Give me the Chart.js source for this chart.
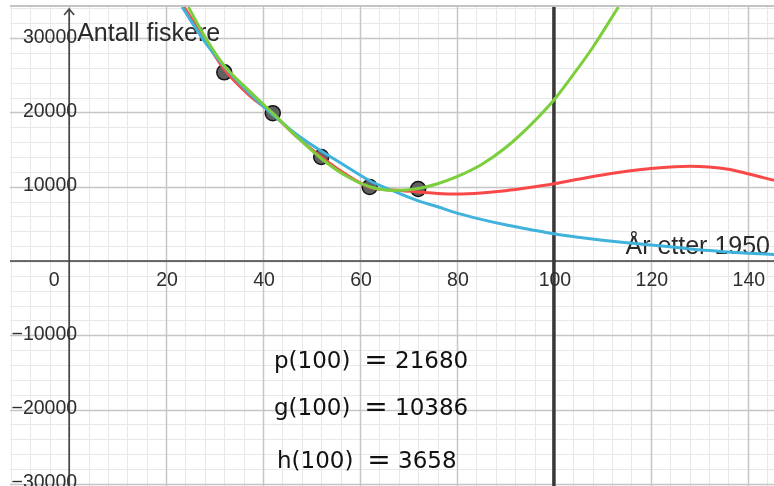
<!DOCTYPE html>
<html>
<head>
<meta charset="utf-8">
<script src="https://cdn.jsdelivr.net/npm/chart.js@4"></script>
<style>
html, body { margin: 0; padding: 0; background: #fff; }
canvas { display: block; }
</style>
</head>
<body>
<canvas id="fiskere" width="774" height="486"></canvas>
<script>
// observed data: years after 1950 and number of fishers
var years = [32, 42, 52, 62, 72];
var fishers = [25400, 19900, 14000, 9960, 9690];

// p (green)
var pX = [24.6, 28, 32, 37, 42, 47, 52, 57, 62, 67, 72, 76, 80, 85, 90, 95, 100, 104, 108, 113.3];
var pY = [34200, 30200, 26300, 23000, 19900, 16700, 13800, 11500, 10000, 9500, 9750, 10400, 11350, 12950, 15250, 18200, 21680, 25100, 28750, 34200];

// g (red)
var gX = [23.7, 28, 32, 37, 42, 47, 52, 57, 62, 67, 72, 76, 80, 85, 90, 95, 100, 105, 110, 115, 120, 125, 128, 132, 136, 140, 145.4];
var gY = [34200, 29800, 25800, 22400, 19800, 16700, 14000, 11700, 9920, 9550, 9300, 9100, 9020, 9150, 9450, 9880, 10386, 11000, 11570, 12070, 12450, 12690, 12740, 12650, 12350, 11750, 10850];

// h (blue)
var hX = [23.3, 28, 32, 37, 42, 47, 52, 57, 62, 67, 72, 76, 80, 85, 90, 95, 100, 105, 110, 115, 120, 125, 130, 135, 140, 145.4];
var hY = [34200, 29500, 26200, 22700, 19700, 17000, 14800, 12800, 10800, 9400, 8100, 7300, 6450, 5600, 4870, 4250, 3658, 3200, 2800, 2450, 2150, 1850, 1500, 1250, 1050, 880];

var xTicks = [0, 20, 40, 60, 80, 100, 120, 140];
var yTicks = [30000, 20000, 10000, -10000, -20000, -30000];

var markX = 100;
var funcNames = ['p', 'g', 'h'];
var funcAt100 = [21680, 10386, 3658];

function pts(xs, ys) {
  return xs.map(function (x, i) { return { x: x, y: ys[i] }; });
}

// minor/major grid like the GeoGebra view
function drawGrid(ctx, a, xs, ys, major) {
  var i, v, p;
  ctx.strokeStyle = major ? '#c6c6c6' : '#e8e8e8';
  ctx.lineWidth = major ? 1.5 : 1;
  ctx.beginPath();
  for (i = Math.ceil(xs.min / 4); i * 4 <= xs.max; i++) {
    v = i * 4;
    if ((v % 20 === 0) !== major) continue;
    p = Math.round(xs.getPixelForValue(v)) + 0.5;
    ctx.moveTo(p, a.top);
    ctx.lineTo(p, a.bottom);
  }
  for (i = Math.ceil(ys.min / 2000); i * 2000 <= ys.max; i++) {
    v = i * 2000;
    if ((v % 10000 === 0) !== major) continue;
    p = Math.round(ys.getPixelForValue(v)) + 0.5;
    ctx.moveTo(a.left, p);
    ctx.lineTo(a.right, p);
  }
  ctx.stroke();
}

var geoAxes = {
  id: 'geoAxes',
  beforeDatasetsDraw: function (chart) {
    var ctx = chart.ctx, a = chart.chartArea;
    var xs = chart.scales.x, ys = chart.scales.y;
    var x0 = xs.getPixelForValue(0), y0 = ys.getPixelForValue(0);
    ctx.save();
    drawGrid(ctx, a, xs, ys, false);
    drawGrid(ctx, a, xs, ys, true);

    // top border of the view
    ctx.strokeStyle = '#c4c4c4';
    ctx.lineWidth = 2;
    ctx.beginPath();
    ctx.moveTo(a.left, a.top - 1);
    ctx.lineTo(a.right, a.top - 1);
    ctx.stroke();

    // axes
    ctx.strokeStyle = '#444';
    ctx.lineWidth = 1.6;
    ctx.beginPath();
    ctx.moveTo(x0, a.top + 2);
    ctx.lineTo(x0, a.bottom);
    ctx.moveTo(a.left, y0);
    ctx.lineTo(a.right, y0);
    ctx.stroke();
    // arrow on y axis
    ctx.beginPath();
    ctx.moveTo(x0 - 5, a.top + 8);
    ctx.lineTo(x0, a.top + 2);
    ctx.lineTo(x0 + 5, a.top + 8);
    ctx.stroke();

    // vertical line x = 100
    var xm = xs.getPixelForValue(markX);
    ctx.strokeStyle = '#383838';
    ctx.lineWidth = 3.5;
    ctx.beginPath();
    ctx.moveTo(xm, a.top);
    ctx.lineTo(xm, a.bottom);
    ctx.stroke();

    // tick labels
    ctx.fillStyle = '#2e2e2e';
    ctx.font = '19.5px "Liberation Sans"';
    ctx.textBaseline = 'alphabetic';
    ctx.textAlign = 'center';
    xTicks.forEach(function (v) {
      var px = xs.getPixelForValue(v);
      if (v === 0) px -= 16;
      ctx.fillText(String(v), px + 1, y0 + 25);
    });
    ctx.textAlign = 'right';
    ctx.textBaseline = 'middle';
    yTicks.forEach(function (v) {
      ctx.fillText(String(v).replace('-', '\u2212'), x0 + 8, ys.getPixelForValue(v) - 1);
    });

    // axis titles
    ctx.font = '25px "Liberation Sans"';
    ctx.textBaseline = 'alphabetic';
    ctx.textAlign = 'left';
    ctx.fillStyle = '#2a2a2a';
    ctx.fillText('Antall fiskere', x0 + 8, 41);
    ctx.textAlign = 'right';
    ctx.fillText('\u00c5r etter 1950', a.right - 4, 254);
    ctx.restore();
  },
  afterDraw: function (chart) {
    var ctx = chart.ctx;
    var rows = [368, 415, 468];
    ctx.save();
    ctx.fillStyle = '#111';
    ctx.textBaseline = 'alphabetic';
    funcNames.forEach(function (n, i) {
      ctx.font = '23px "DejaVu Sans"';
      ctx.textAlign = 'left';
      ctx.fillText(n + '(100)', i === 2 ? 277 : 274, rows[i]);
      ctx.textAlign = 'left';
      ctx.fillText(String(funcAt100[i]), i === 2 ? 398 : 395, rows[i]);
      ctx.font = '28px "DejaVu Sans"';
      ctx.textAlign = 'center';
      ctx.fillText('=', i === 2 ? 379 : 376, rows[i] + 1);
    });
    ctx.restore();
  }
};

var config = {
  type: 'scatter',
  data: {
    datasets: [{
      label: 'p',
      data: pts(pX, pY),
      showLine: true,
      borderColor: '#7ccf3c',
      borderWidth: 3,
      pointRadius: 0,
      cubicInterpolationMode: 'monotone',
      order: 1
    }, {
      label: 'h',
      data: pts(hX, hY),
      showLine: true,
      borderColor: '#3fb3dc',
      borderWidth: 3,
      pointRadius: 0,
      cubicInterpolationMode: 'monotone',
      order: 2
    }, {
      label: 'g',
      data: pts(gX, gY),
      showLine: true,
      borderColor: '#f94848',
      borderWidth: 3,
      pointRadius: 0,
      cubicInterpolationMode: 'monotone',
      order: 3
    }, {
      label: 'Antall fiskere',
      data: pts(years, fishers),
      showLine: false,
      pointRadius: 7.5,
      backgroundColor: '#616161',
      borderColor: '#151515',
      borderWidth: 1.5,
      order: 10
    }]
  },
  options: {
    responsive: false,
    animation: false,
    layout: { padding: { left: 10, top: 7, right: 0, bottom: 0 }, autoPadding: false },
    plugins: {
      legend: { display: false },
      tooltip: { enabled: false }
    },
    scales: {
      x: { type: 'linear', display: false, min: -12.2, max: 145.4 },
      y: { type: 'linear', display: false, min: -30300, max: 34200 }
    }
  },
  plugins: [geoAxes]
};

window.onload = function () {
  var ctx = document.getElementById('fiskere').getContext('2d');
  window.fiskChart = new Chart(ctx, config);
};
</script>
</body>
</html>
